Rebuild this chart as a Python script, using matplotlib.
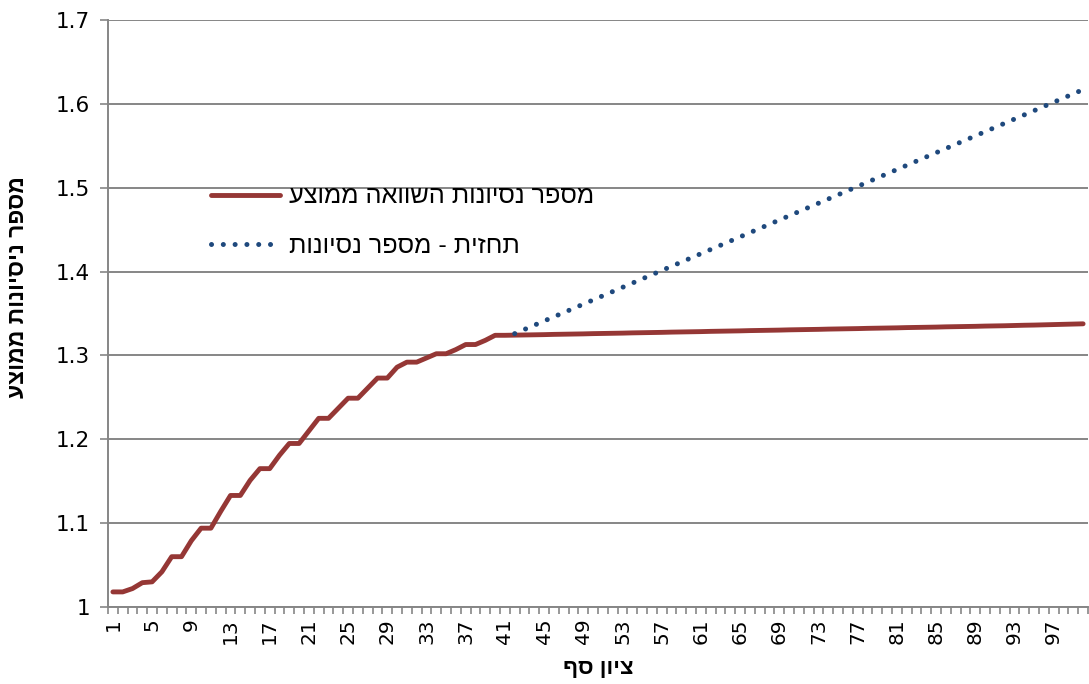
import numpy as np
import matplotlib
matplotlib.use("Agg")
import matplotlib.pyplot as plt
from matplotlib.ticker import FixedLocator, FuncFormatter

# ציון סף 1..100
ציונים = np.arange(1, 101)

# מספר נסיונות השוואה ממוצע
ממוצע = [1.018, 1.018, 1.022, 1.029, 1.030, 1.042, 1.060, 1.060, 1.079, 1.094,
         1.094, 1.114, 1.133, 1.133, 1.151, 1.165, 1.165, 1.181, 1.195, 1.195,
         1.210, 1.225, 1.225, 1.237, 1.249, 1.249, 1.261, 1.273, 1.273, 1.286,
         1.292, 1.292, 1.297, 1.302, 1.302, 1.307, 1.313, 1.313, 1.318, 1.324,
         1.324,
         1.3242, 1.3244, 1.3246, 1.3248, 1.3251, 1.3253, 1.3255, 1.3257, 1.3260, 1.3262,
         1.3264, 1.3266, 1.3269, 1.3271, 1.3273, 1.3275, 1.3278, 1.3280, 1.3282, 1.3284,
         1.3287, 1.3289, 1.3291, 1.3293, 1.3296, 1.3298, 1.3300, 1.3302, 1.3305, 1.3307,
         1.3309, 1.3311, 1.3314, 1.3316, 1.3318, 1.3320, 1.3323, 1.3325, 1.3327, 1.3329,
         1.3332, 1.3334, 1.3336, 1.3338, 1.3341, 1.3343, 1.3345, 1.3347, 1.3350, 1.3352,
         1.3354, 1.3357, 1.3360, 1.3362, 1.3365, 1.3368, 1.3371, 1.3374, 1.3377]

# תחזית (קו ישר)
תחזית_x = [42, 100]
תחזית_y = [1.326, 1.617]

תווית_1 = "מספר נסיונות השוואה ממוצע"
תווית_2 = "תחזית - מספר נסיונות"
כותרת_x = "ציון סף"
כותרת_y = "מספר ניסיונות ממוצע"


def rtl(s):
    # matplotlib לא מציג עברית מימין לשמאל
    return s[::-1]


heb = ["Liberation Sans", "DejaVu Sans"]
grey = "#868686"

fig = plt.figure(figsize=(10.89, 6.84), dpi=100)
ax = fig.add_axes([108 / 1089, 1 - 607 / 684, 980 / 1089, 587 / 684])

ax.plot(ציונים, ממוצע, color="#953735", lw=3.5, solid_joinstyle="round",
        solid_capstyle="round", label=rtl(תווית_1), zorder=3)
ax.plot(תחזית_x, תחזית_y, color="#1F497D", lw=3.6, linestyle=(0, (0.01, 2.35)),
        dash_capstyle="round", label=rtl(תווית_2), zorder=4)

ax.set_xlim(0.5, 100.5)
ax.set_ylim(1.0, 1.7)
ax.set_yticks(np.arange(1.0, 1.71, 0.1))
ax.yaxis.set_major_formatter(FuncFormatter(lambda v, p: "%g" % round(v, 1)))
ax.grid(axis="y", color=grey, lw=1.4)
ax.set_axisbelow(True)

ax.set_xticks(np.arange(1, 101, 4))
ax.xaxis.set_minor_locator(FixedLocator(np.arange(0.5, 101, 1)))
ax.tick_params(axis="x", which="major", length=0, pad=8, labelrotation=90,
               labelsize=14.5, colors="black")
ax.tick_params(axis="x", which="minor", length=5, width=1.2, color=grey)
ax.tick_params(axis="y", which="major", length=6, width=1.2, color=grey,
               labelsize=15.5, pad=7, labelcolor="black")

for side in ["top", "right"]:
    ax.spines[side].set_visible(False)
for side in ["left", "bottom"]:
    ax.spines[side].set_color(grey)
    ax.spines[side].set_linewidth(1.4)

ax.set_xlabel(rtl(כותרת_x), family=heb, fontsize=16, fontweight="bold", labelpad=10)
ax.set_ylabel(rtl(כותרת_y), family=heb, fontsize=16.5, fontweight="bold")
ax.yaxis.set_label_coords(-0.081, 0.545)

leg = ax.legend(loc="upper left", bbox_to_anchor=(0.105, 0.72), frameon=False,
                prop={"family": heb, "size": 18.2}, handlelength=2.75,
                handletextpad=0.32, labelspacing=1.0, borderpad=0, borderaxespad=0)

fig.savefig("out.png", dpi=100)
